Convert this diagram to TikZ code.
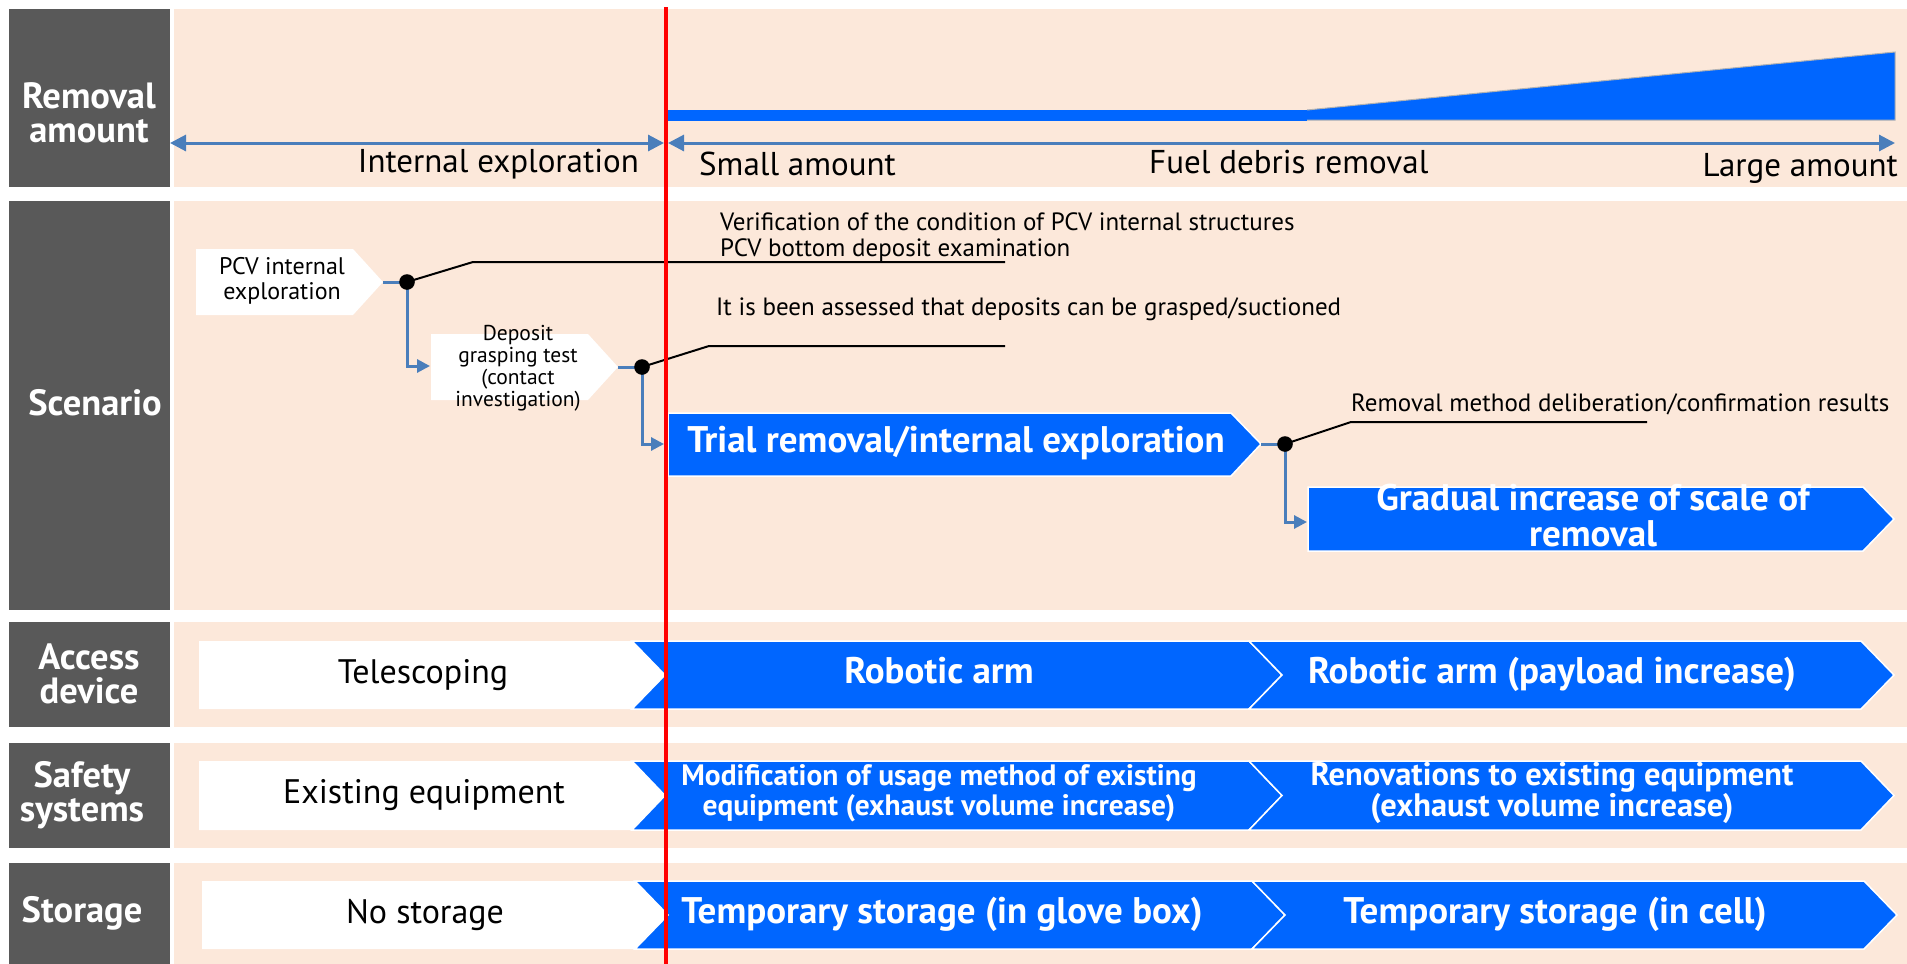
\documentclass[tikz,border=0pt]{standalone}
\usepackage{fontspec}
\setmainfont{PT Sans}
\usetikzlibrary{arrows.meta}

\definecolor{peach}{HTML}{FCE8DA}
\definecolor{slate}{HTML}{595959}
\definecolor{royal}{HTML}{0066FF}
\definecolor{steel}{HTML}{4A7EBB}

\begin{document}
\begin{tikzpicture}[x=1pt,y=-1pt,
    headtxt/.style={text=white,inner sep=0,align=center,font=\bfseries\fontsize{36.5}{34}\selectfont},
    axtxt/.style={inner sep=0,font=\fontsize{33}{34}\selectfont},
    notetxt/.style={inner sep=0,align=left,font=\fontsize{25}{26}\selectfont},
    boxtxt/.style={inner sep=0,align=center,font=\fontsize{24}{25}\selectfont},
    smalltxt/.style={inner sep=0,align=center,font=\fontsize{21.5}{22}\selectfont},
    plaintxt/.style={inner sep=0,font=\fontsize{34}{36}\selectfont},
    bluetxt/.style={text=white,inner sep=0,align=center,font=\bfseries\fontsize{37}{36}\selectfont},
    bluesmall/.style={text=white,inner sep=0,align=center,font=\bfseries\fontsize{29.5}{30}\selectfont},
    bluemid/.style={text=white,inner sep=0,align=center,font=\bfseries\fontsize{32.5}{31}\selectfont},
    bluebox/.style={fill=royal,draw=white,line width=1.5pt},
    axis/.style={steel,line width=3pt},
    link/.style={steel,line width=3pt},
    lead/.style={black,line width=2pt},
  ]
  \useasboundingbox (0,0) rectangle (1907,964);
  \fill[white] (0,0) rectangle (1907,964);

  % row backgrounds and row headers
  \foreach \ya/\yb in {9/187,201/610,622/727,743/848,863/964}{
    \fill[slate] (9,\ya) rectangle (170,\yb);
    \fill[peach] (174,\ya) rectangle (1907,\yb);
  }
  \node[headtxt] (hamount) at (89,113) {Removal\\amount};
  \node[headtxt] (hscen) at (95,403) {Scenario};
  \node[headtxt] (haccess) at (89,674) {Access\\device};
  \node[headtxt] (hsafety) at (82,795) {Safety\\systems};
  \node[headtxt] (hstorage) at (82,913) {Storage};

  % removal amount
  \fill[royal] (666,110) rectangle (1307,121);
  \fill[royal] (1307,110) -- (1895,52) -- (1895,120) -- (1307,120) -- cycle;
  \draw[gray!60,line width=1pt] (1307,110) -- (1895,52) -- (1895,120) -- (1307,120);
  \coordinate (axl) at (170,143);
  \coordinate (axm) at (664,143);
  \coordinate (axn) at (668,143);
  \coordinate (axr) at (1895,143);
  \draw[axis,{Triangle[length=16pt,width=16pt]}-{Triangle[length=16pt,width=16pt]}] (axl) -- (axm);
  \draw[axis,{Triangle[length=16pt,width=16pt]}-{Triangle[length=16pt,width=16pt]}] (axn) -- (axr);
  \node[axtxt,anchor=base east] (tint) at (639,172) {Internal exploration};
  \node[axtxt,anchor=base west] (tsmall) at (699,175) {Small amount};
  \node[axtxt,anchor=base west] (tfuel) at (1149,173) {Fuel debris removal};
  \node[axtxt,anchor=base east] (tlarge) at (1898,176) {Large amount};

  % scenario
  \fill[white] (196,249) -- (353,249) -- (383,282) -- (353,315) -- (196,315) -- cycle;
  \node[boxtxt] (pcv) at (282,281) {PCV internal\\exploration};
  \fill[white] (431,334) -- (588,334) -- (618,367) -- (588,400) -- (431,400) -- cycle;
  \node[smalltxt] (dep) at (518,368) {Deposit\\grasping test\\(contact\\investigation)};
  \filldraw[bluebox] (668,413) -- (1231,413) -- (1261,444) -- (1231,476) -- (668,476) -- cycle;
  \node[bluetxt] (trial) at (956,443) {Trial removal/internal exploration};
  \filldraw[bluebox] (1308,487) -- (1863,487) -- (1894,519) -- (1863,551) -- (1308,551) -- cycle;
  \node[bluetxt] (grad) at (1593,516) {Gradual increase of scale of\\removal};

  \coordinate (pcvtip) at (383,282);
  \coordinate (d1) at (407,282);
  \coordinate (depin) at (430,366);
  \coordinate (deptip) at (618,367);
  \coordinate (d2) at (642,367);
  \coordinate (trialin) at (664,444);
  \coordinate (trialtip) at (1261,444);
  \coordinate (d3) at (1285,444);
  \coordinate (gradin) at (1307,522);

  \draw[link] (pcvtip) -- (d1);
  \draw[link,-{Triangle[length=13pt,width=13pt]}] (d1) |- (depin);
  \draw[link] (deptip) -- (d2);
  \draw[link,-{Triangle[length=13pt,width=13pt]}] (d2) |- (trialin);
  \draw[link] (trialtip) -- (d3);
  \draw[link,-{Triangle[length=13pt,width=13pt]}] (d3) |- (gradin);

  \draw[lead] (d1) -- (473,262) -- (1005,262);
  \draw[lead] (d2) -- (709,346) -- (1005,346);
  \draw[lead] (d3) -- (1351,422) -- (1647,422);
  \foreach \d in {d1,d2,d3}
    \fill (\d) circle (7.8);

  \node[notetxt,anchor=base west] (note1) at (720,230) {Verification of the condition of PCV internal structures};
  \node[notetxt,anchor=base west] (note1b) at (720,256) {PCV bottom deposit examination};
  \node[notetxt,anchor=base west] (note2) at (716,315) {It is been assessed that deposits can be grasped/suctioned};
  \node[notetxt,anchor=base west] (note3) at (1351,411) {Removal method deliberation/confirmation results};

  % access device, safety systems, storage
  \foreach \ya/\yb/\dx in {641/709/0,761/830/0,881/949/3}{
    \pgfmathsetmacro{\ym}{(\ya+\yb)/2}
    \fill[white] (199+\dx,\ya) -- (632+\dx,\ya) -- (665+\dx,\ym) -- (632+\dx,\yb) -- (199+\dx,\yb) -- cycle;
    \filldraw[bluebox] (632+\dx,\ya) -- (1249+\dx,\ya) -- (1282+\dx,\ym) -- (1249+\dx,\yb) -- (632+\dx,\yb) -- (665+\dx,\ym) -- cycle;
    \filldraw[bluebox] (1249+\dx,\ya) -- (1861+\dx,\ya) -- (1894+\dx,\ym) -- (1861+\dx,\yb) -- (1249+\dx,\yb) -- (1282+\dx,\ym) -- cycle;
  }
  \node[plaintxt] (tele) at (423,675) {Telescoping};
  \node[plaintxt] (exist) at (424,795) {Existing equipment};
  \node[plaintxt] (nostore) at (425,915) {No storage};
  \node[bluetxt] (arm) at (939,671) {Robotic arm};
  \node[bluetxt] (armplus) at (1552,674) {Robotic arm (payload increase)};
  \node[bluesmall] (modif) at (939,793) {Modification of usage method of existing\\equipment (exhaust volume increase)};
  \node[bluemid] (renov) at (1552,793) {Renovations to existing equipment\\(exhaust volume increase)};
  \node[bluetxt] (tempgb) at (942,914) {Temporary storage (in glove box)};
  \node[bluetxt] (tempcell) at (1555,914) {Temporary storage (in cell)};

  % start of debris removal
  \draw[red,line width=4pt] (666,7) -- (666,964);
\end{tikzpicture}
\end{document}
